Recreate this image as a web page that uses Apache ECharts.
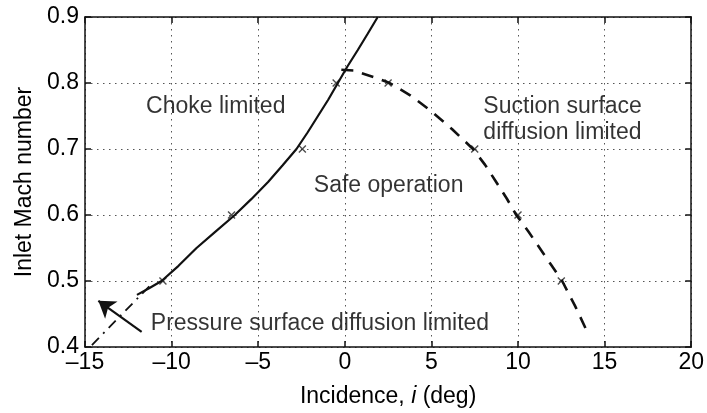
<!DOCTYPE html>
<html>
<head>
<meta charset="utf-8">
<script src="https://cdn.jsdelivr.net/npm/echarts@6/dist/echarts.min.js"></script>
<style>
  html, body { margin: 0; padding: 0; background: #fff; }
  #chart { width: 707px; height: 413px; }
</style>
</head>
<body>
<div id="chart"></div>
<script>
// 数据
const xTicks = [-15, -10, -5, 0, 5, 10, 15, 20];
const yTicks = [0.4, 0.5, 0.6, 0.7, 0.8, 0.9];

// choke limit (solid)
const chokeLine = [[-12, 0.479], [-11.3, 0.489], [-10.58, 0.5], [-9.6, 0.523], [-8.56, 0.55],
  [-7.5, 0.574], [-6.35, 0.6], [-5.4, 0.624], [-4.43, 0.65], [-3.6, 0.675], [-2.79, 0.7],
  [-2.15, 0.725], [-1.55, 0.75], [-0.95, 0.775], [-0.4, 0.8], [0.15, 0.825], [0.75, 0.85],
  [1.33, 0.875], [1.9, 0.9]];
// suction surface diffusion limit (dashed)
const suctionLine = [[-0.2, 0.82], [0.5, 0.819], [1.2, 0.813], [1.9, 0.807], [2.59, 0.8],
  [3.8, 0.781], [5, 0.757], [6.2, 0.73], [7.4, 0.7], [8.1, 0.676], [8.74, 0.65], [9.35, 0.625],
  [9.9, 0.6], [10.6, 0.575], [11.25, 0.55], [11.9, 0.525], [12.55, 0.5], [13.3, 0.462], [14.03, 0.421]];
// pressure surface diffusion limit (dash-dot)
const pressureLine = [[-14.6, 0.403], [-11.1, 0.497]];
// measured points (x)
const markers = [[-10.5, 0.5], [-6.54, 0.6], [-2.45, 0.7], [-0.5, 0.8], [2.5, 0.8], [7.5, 0.7], [10, 0.6], [12.5, 0.5]];

// annotation labels
const centerLabels = [
  { name: 'Choke limited', value: [-7.45, 0.764] },
  { name: 'Safe operation', value: [2.53, 0.645] }
];
const leftLabels = [
  { name: 'Suction surface\ndiffusion limited', value: [8.0, 0.744] },
  { name: 'Pressure surface diffusion limited', value: [-11.2, 0.436] }
];
const arrowCoords = [[-11.73, 0.423], [-14.23, 0.47]];

const textColor = '#000';
const fontFamily = 'Liberation Sans, Arial, sans-serif';
const fs = 23;

let myChart = echarts.init(document.getElementById('chart'));

const baseX = {
  type: 'value',
  min: xTicks[0],
  max: xTicks[xTicks.length - 1],
  interval: 5,
  axisLine: { show: true, onZero: false, lineStyle: { color: '#111', width: 1.5 } },
  axisTick: { show: true, inside: true, length: 6, lineStyle: { color: '#111', width: 1.5 } }
};
const baseY = {
  type: 'value',
  min: yTicks[0],
  max: yTicks[yTicks.length - 1],
  interval: 0.1,
  axisLine: { show: true, onZero: false, lineStyle: { color: '#111', width: 1.5 } },
  axisTick: { show: true, inside: true, length: 6, lineStyle: { color: '#111', width: 1.5 } }
};

const option = {
  animation: false,
  backgroundColor: '#fff',
  grid: { left: 85, right: 15, top: 17, bottom: 66 },
  xAxis: [
    Object.assign({}, baseX, {
      position: 'bottom',
      name: 'Incidence, {i|i} (deg)',
      nameLocation: 'middle',
      nameGap: 38,
      nameTextStyle: {
        color: textColor, fontSize: fs, fontFamily: fontFamily,
        rich: { i: { fontStyle: 'italic', fontSize: fs, color: textColor, fontFamily: fontFamily } }
      },
      axisLabel: {
        margin: 4,
        color: textColor,
        fontSize: fs,
        fontFamily: fontFamily,
        formatter: v => (v < 0 ? '\u2013' + Math.abs(v) : String(v))
      },
      splitLine: { show: true, lineStyle: { color: '#555', width: 1, type: [1.5, 4.5] } }
    }),
    Object.assign({}, baseX, {
      position: 'top',
      axisLabel: { show: false },
      splitLine: { show: false }
    })
  ],
  yAxis: [
    Object.assign({}, baseY, {
      position: 'left',
      name: 'Inlet Mach number',
      nameLocation: 'middle',
      nameGap: 49,
      nameTextStyle: { color: textColor, fontSize: fs, fontFamily: fontFamily },
      axisLabel: {
        margin: 6,
        color: textColor,
        fontSize: fs,
        fontFamily: fontFamily,
        formatter: v => v.toFixed(1)
      },
      splitLine: { show: true, lineStyle: { color: '#555', width: 1, type: [1.5, 4.5] } }
    }),
    Object.assign({}, baseY, {
      position: 'right',
      axisLabel: { show: false },
      splitLine: { show: false }
    })
  ],
  series: [
    {
      type: 'line',
      data: chokeLine,
      showSymbol: false,
      lineStyle: { color: '#111', width: 2.2 }
    },
    {
      type: 'line',
      data: suctionLine,
      showSymbol: false,
      lineStyle: { color: '#111', width: 2.6, type: [12, 9] }
    },
    {
      type: 'line',
      data: pressureLine,
      showSymbol: false,
      lineStyle: { color: '#111', width: 1.8, type: [10, 6, 2, 6] }
    },
    {
      type: 'scatter',
      data: markers,
      symbol: 'path://M0,0L10,10M10,0L0,10',
      symbolSize: 7,
      itemStyle: { color: 'rgba(0,0,0,0)', borderColor: '#222', borderWidth: 1.4 }
    },
    {
      type: 'lines',
      coordinateSystem: 'cartesian2d',
      data: [{ coords: arrowCoords }],
      symbol: ['none', 'arrow'],
      symbolSize: 16,
      lineStyle: { color: '#111', width: 2.2, opacity: 1 }
    },
    {
      type: 'scatter',
      data: centerLabels,
      symbolSize: 0,
      label: {
        show: true,
        position: 'inside',
        formatter: p => p.name,
        color: textColor,
        fontSize: fs,
        fontFamily: fontFamily
      }
    },
    {
      type: 'scatter',
      data: leftLabels,
      symbolSize: 0,
      label: {
        show: true,
        position: 'right',
        distance: 0,
        align: 'left',
        formatter: p => p.name,
        color: textColor,
        fontSize: fs,
        lineHeight: 26,
        fontFamily: fontFamily
      }
    }
  ]
};
myChart.setOption(option);
window.onresize = myChart.resize;
</script>
</body>
</html>
